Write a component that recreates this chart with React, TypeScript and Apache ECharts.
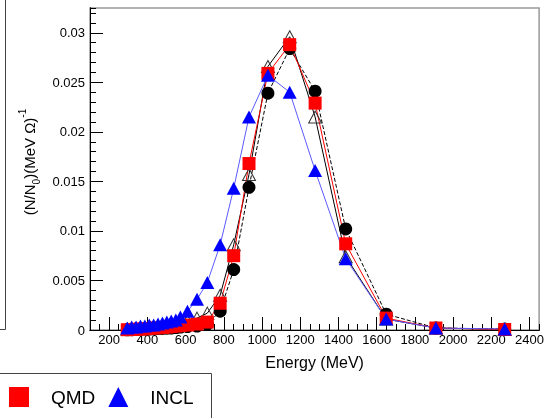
import React, { useEffect, useRef } from 'react';
import * as echarts from 'echarts';

const energies = [295, 318, 341, 364, 387, 410, 433, 456, 479, 502, 525, 549, 573, 610, 660, 714, 781, 852, 932, 1031, 1145, 1278, 1438, 1650, 1910, 2270];
const expValues = [0.00002, 0.00003, 0.00005, 0.00007, 0.00009, 0.0001, 0.00012, 0.00014, 0.00016, 0.00018, 0.0002, 0.00025, 0.0003, 0.00035, 0.0004, 0.0006, 0.0019, 0.0061, 0.0144, 0.0239, 0.0284, 0.0241, 0.0102, 0.0016, 0.0002, 0.0001];
const openTriValues = [0.0001, 0.0001, 0.00015, 0.0002, 0.0002, 0.00025, 0.0003, 0.0003, 0.00035, 0.0004, 0.0005, 0.0006, 0.0007, 0.0009, 0.0012, 0.0017, 0.0035, 0.0086, 0.0157, 0.0266, 0.0296, 0.0215, 0.0074, 0.0011, 0.0002, 0.00005];
const qmdValues = [0.00003, 0.00005, 0.00008, 0.0001, 0.00012, 0.00015, 0.0002, 0.00022, 0.00025, 0.0003, 0.00035, 0.0004, 0.00045, 0.0005, 0.0006, 0.0008, 0.0027, 0.0075, 0.0168, 0.0259, 0.0288, 0.0229, 0.0087, 0.0012, 0.0002, 0.00005];
const inclValues = [0.0002, 0.0003, 0.0003, 0.0004, 0.0004, 0.0005, 0.0005, 0.0006, 0.0007, 0.0008, 0.0009, 0.001, 0.0013, 0.0019, 0.0031, 0.0048, 0.0086, 0.0143, 0.0215, 0.0257, 0.024, 0.0161, 0.0072, 0.0011, 0.0002, 0.0001];
const xMajorTicks = [200, 400, 600, 800, 1000, 1200, 1400, 1600, 1800, 2000, 2200, 2400];

const FONT = 'Liberation Sans, Arial, sans-serif';

export default function App() {
  const ref = useRef<HTMLDivElement>(null);
  useEffect(() => {
    const chart = echarts.init(ref.current!, null, { renderer: 'svg' });
    const pts = (vals: number[]) => energies.map((e, i) => [e, vals[i]]);
    const xCommon = {
      type: 'value',
      min: 100,
      max: 2450,
      position: 'bottom',
      splitLine: { show: false },
      axisLine: { show: true, lineStyle: { color: '#000', width: 1 } },
    };
    const yCommon = {
      type: 'value',
      min: 0,
      max: 0.0325,
      position: 'left',
      splitLine: { show: false },
      axisLine: { show: true, lineStyle: { color: '#000', width: 1 } },
    };
    chart.setOption({
      animation: false,
      grid: { left: 90, right: 5, top: 8, bottom: 88, show: true, borderColor: '#999', borderWidth: 1.5, backgroundColor: '#fff' },
      xAxis: [
        {
          ...xCommon,
          interval: 50,
          axisTick: { show: true, inside: true, length: 6, lineStyle: { color: '#000' } },
          axisLabel: { show: false },
        },
        {
          ...xCommon,
          name: 'Energy (MeV)',
          nameLocation: 'middle',
          nameGap: 24,
          nameTextStyle: { fontFamily: FONT, fontSize: 16, color: '#000' },
          axisTick: { show: true, inside: true, length: 13, customValues: xMajorTicks, lineStyle: { color: '#000' } },
          axisLabel: {
            show: true,
            customValues: xMajorTicks,
            margin: 3,
            fontFamily: FONT,
            fontSize: 13,
            color: '#000',
            formatter: (v: number) => String(v),
          },
        },
      ],
      yAxis: [
        {
          ...yCommon,
          interval: 0.001,
          axisTick: { show: true, inside: true, length: 6, lineStyle: { color: '#000' } },
          axisLabel: { show: false },
        },
        {
          ...yCommon,
          interval: 0.005,
          name: '{a|(N/N}{s|0}{a|)(MeV Ω)}{p|-1}',
          nameLocation: 'middle',
          nameRotate: 90,
          nameGap: 38,
          nameTextStyle: {
            fontFamily: FONT,
            color: '#000',
            padding: [0, 0, 0, 14],
            rich: {
              a: { fontFamily: FONT, fontSize: 15, color: '#000', lineHeight: 24, verticalAlign: 'middle' },
              s: { fontFamily: FONT, fontSize: 10, color: '#000', lineHeight: 10, verticalAlign: 'bottom' },
              p: { fontFamily: FONT, fontSize: 10, color: '#000', lineHeight: 10, verticalAlign: 'top' },
            },
          },
          axisTick: { show: true, inside: true, length: 13, lineStyle: { color: '#000' } },
          axisLabel: { show: true, showMaxLabel: false, margin: 5, fontFamily: FONT, fontSize: 13, color: '#000' },
        },
      ],
      legend: {
        left: 9,
        top: 387,
        itemWidth: 20,
        itemHeight: 20,
        itemGap: 13,
        padding: 0,
        textStyle: { fontFamily: FONT, fontSize: 19, color: '#000', padding: [0, 0, 0, 17] },
        data: [
          { name: 'QMD', icon: 'rect' },
          { name: 'INCL', icon: 'triangle' },
        ],
      },
      graphic: [
        { type: 'line', shape: { x1: 5.5, y1: 0, x2: 5.5, y2: 329.5 }, style: { stroke: '#444', lineWidth: 1 } },
        { type: 'line', shape: { x1: 0, y1: 329.5, x2: 5.5, y2: 329.5 }, style: { stroke: '#444', lineWidth: 1 } },
        { type: 'line', shape: { x1: 0, y1: 373.5, x2: 211.5, y2: 373.5 }, style: { stroke: '#444', lineWidth: 1 } },
        { type: 'line', shape: { x1: 211.5, y1: 373.5, x2: 211.5, y2: 418 }, style: { stroke: '#444', lineWidth: 1 } },
      ],
      series: [
        {
          name: 'Experiment',
          type: 'line',
          data: pts(expValues),
          symbol: 'circle',
          symbolSize: 13,
          itemStyle: { color: '#000' },
          lineStyle: { color: '#000', width: 1, type: 'dashed' },
        },
        {
          name: 'Model',
          type: 'line',
          data: pts(openTriValues),
          symbol: 'triangle',
          symbolSize: [13, 12],
          itemStyle: { color: 'rgba(0,0,0,0)', borderColor: '#333', borderWidth: 1 },
          lineStyle: { color: '#000', width: 1 },
        },
        {
          name: 'QMD',
          type: 'line',
          data: pts(qmdValues),
          symbol: 'rect',
          symbolSize: 13,
          itemStyle: { color: '#ff0000' },
          lineStyle: { color: '#ff0000', width: 1 },
        },
        {
          name: 'INCL',
          type: 'line',
          data: pts(inclValues),
          symbol: 'triangle',
          symbolSize: [14, 13],
          itemStyle: { color: '#0000ff' },
          lineStyle: { color: '#5a5aff', width: 1 },
        },
      ],
    });
    return () => chart.dispose();
  }, []);
  return <div ref={ref} style={{ position: 'fixed', left: 0, top: 0, width: 547, height: 418 }} />;
}
